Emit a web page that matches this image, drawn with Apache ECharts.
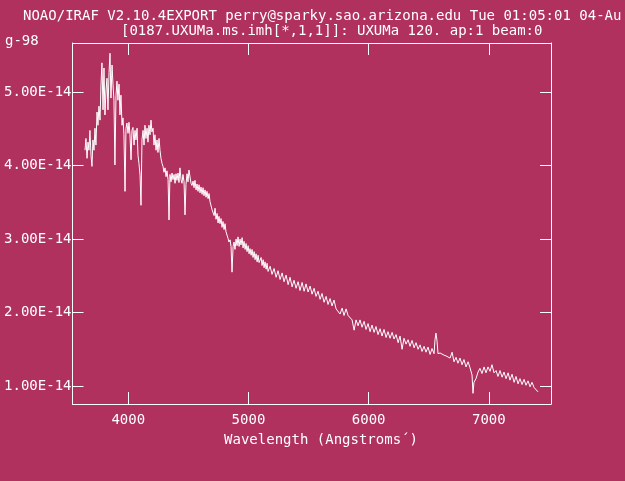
<!DOCTYPE html>
<html>
<head>
<meta charset="utf-8">
<script src="https://cdn.jsdelivr.net/npm/echarts@6/dist/echarts.min.js"></script>
<style>
html,body{margin:0;padding:0;background:#b0305e;}
#c{width:625px;height:481px;}
</style>
</head>
<body>
<div id="c"></div>
<script>
const headerLine1 = "NOAO/IRAF V2.10.4EXPORT perry@sparky.sao.arizona.edu Tue 01:05:01 04-Au";
const headerLine2 = "[0187.UXUMa.ms.imh[*,1,1]]: UXUMa 120. ap:1 beam:0";
const cornerLabel = "g-98";
const xAxisTitle = "Wavelength (Angstroms\u00b4)";

const xTicks = [4000, 5000, 6000, 7000];
const yTicks = [1, 2, 3, 4, 5]; // units of 1E-14

// Wavelength (Angstroms)
const wavelength = [
3640,3648,3657,3665,3673,3681,3690,3698,3706,3715,3723,3731,3740,3748,3756,3765,3773,3781,3790,3798,
3806,3815,3823,3831,3840,3848,3856,3865,3873,3881,3889,3898,3906,3914,3923,3931,3939,3948,3956,3964,
3973,3981,3989,3998,4006,4014,4023,4031,4039,4048,4056,4064,4073,4081,4089,4098,4106,4114,4123,4131,
4139,4147,4156,4164,4172,4181,4189,4197,4206,4214,4222,4231,4239,4247,4256,4264,4272,4281,4289,4297,
4306,4314,4322,4331,4339,4347,4356,4364,4372,4381,4389,4397,4405,4414,4422,4430,4439,4447,4455,4464,
4472,4480,4489,4497,4505,4514,4522,4530,4539,4547,4555,4564,4572,4580,4589,4597,4605,4614,4622,4630,
4639,4647,4655,4664,4672,4680,4689,4697,4705,4714,4722,4730,4739,4747,4755,4763,4772,4780,4788,4797,
4805,4813,4822,4830,4838,4847,4855,4863,4872,4880,4888,4897,4905,4913,4922,4930,4938,4947,4955,4963,
4972,4980,4988,4997,5005,5013,5022,5030,5038,5047,5055,5063,5072,5080,5088,5097,5105,5113,5122,5130,
5138,5147,5155,5163,
5180,5196,5213,5230,5246,5263,5280,5296,5313,5330,5346,5363,5379,5396,5413,5429,5446,5463,5479,5496,
5513,5529,5546,5562,5579,5596,5612,5629,5646,5662,5679,5695,5712,5729,5745,5762,5779,5795,5812,5829,
5845,5862,5879,5895,5912,5928,5945,5962,5978,5995,6012,6028,6045,6061,6078,6095,6111,6128,6145,6161,
6178,6195,6211,6228,6245,6261,6278,6294,6311,6328,6344,6361,6378,6394,6411,6428,6444,6461,6477,6494,
6511,6527,6544,6552,6560,6569,6577,6594,6610,6627,6644,6660,6677,6694,6710,6727,6743,6760,6777,6793,
6810,6827,6843,6860,6868,6876,6893,6910,6926,6943,6960,6976,6993,7010,7026,7043,7060,7076,7093,7110,
7126,7143,7160,7176,7193,7210,7226,7243,7259,7276,7293,7309,7326,7343,7359,7376,7392,7409
];

// Flux in units of 1E-14
const flux = [
4.21,4.37,4.10,4.32,4.21,4.48,4.14,3.99,4.35,4.21,4.51,4.28,4.73,4.55,4.81,4.62,5.10,5.40,4.76,5.33,
4.69,5.03,5.19,4.76,5.27,5.53,4.92,5.37,5.10,4.89,4.01,4.96,5.15,4.89,5.11,4.69,4.96,4.55,4.65,4.42,
3.65,4.51,4.58,4.44,4.59,4.42,4.08,4.48,4.52,4.28,4.48,4.35,4.51,4.14,4.03,3.87,3.46,4.35,4.48,4.28,
4.55,4.37,4.51,4.32,4.55,4.42,4.62,4.46,4.51,4.28,4.42,4.21,4.35,4.18,4.37,4.21,4.10,4.03,3.99,3.91,
3.97,3.85,3.93,3.81,3.26,3.88,3.78,3.90,3.81,3.88,3.76,3.89,3.80,3.90,3.77,3.97,3.81,3.76,3.88,3.78,
3.33,3.74,3.89,3.78,3.94,3.95,3.76,3.73,3.79,3.70,3.80,3.67,3.75,3.65,3.74,3.63,3.71,3.61,3.70,3.59,
3.67,3.57,3.65,3.55,3.62,3.51,3.51,3.40,3.42,3.32,3.42,3.27,3.35,3.22,3.31,3.21,3.28,3.16,3.24,3.13,
3.21,3.10,3.10,3.01,2.96,2.99,2.90,2.55,2.90,2.96,2.86,3.00,2.91,3.03,2.90,3.00,2.92,3.02,2.88,2.97,
2.86,2.94,2.83,2.91,2.80,2.87,2.78,2.86,2.75,2.83,2.72,2.80,2.69,2.78,2.68,2.67,2.75,2.64,2.72,2.61,
2.69,2.59,2.67,2.56,
2.63,2.52,2.60,2.48,2.57,2.45,2.54,2.42,2.51,2.38,2.48,2.35,2.44,2.33,2.42,2.30,2.41,2.29,2.39,2.28,
2.36,2.25,2.33,2.22,2.29,2.18,2.26,2.14,2.22,2.11,2.19,2.09,2.17,2.05,2.07,1.98,2.06,1.96,2.05,1.96,
1.96,1.90,1.76,1.90,1.82,1.90,1.80,1.88,1.77,1.85,1.74,1.83,1.73,1.81,1.70,1.78,1.68,1.77,1.66,1.74,
1.65,1.73,1.64,1.70,1.59,1.68,1.50,1.65,1.57,1.63,1.54,1.62,1.52,1.59,1.50,1.56,1.47,1.54,1.46,1.53,
1.43,1.51,1.44,1.63,1.72,1.61,1.44,1.45,1.44,1.42,1.41,1.39,1.38,1.46,1.33,1.39,1.31,1.38,1.29,1.36,
1.26,1.33,1.25,1.15,0.90,1.05,1.10,1.19,1.24,1.17,1.26,1.18,1.26,1.20,1.29,1.18,1.21,1.13,1.21,1.12,
1.19,1.10,1.18,1.08,1.16,1.05,1.13,1.03,1.10,1.02,1.09,1.01,1.07,0.99,1.05,0.98,0.96,0.92
];

const FONT = "DejaVu Sans Mono";
const FG = "#ffffff";

const chart = echarts.init(document.getElementById('c'), null, {renderer: 'canvas'});
const data = wavelength.map((w, i) => [w, flux[i]]);

const xBase = {
  type: 'value', min: 3536, max: 7517,
  splitLine: {show: false},
  axisLine: {show: true, lineStyle: {color: FG, width: 1}}
};
const yBase = {
  type: 'value', min: 0.755, max: 5.67,
  splitLine: {show: false},
  axisLine: {show: true, lineStyle: {color: FG, width: 1}}
};

chart.setOption({
  backgroundColor: '#b0305e',
  animation: false,
  grid: {left: 72.5, right: 74, top: 43, bottom: 77, containLabel: false},
  xAxis: [
    Object.assign({}, xBase, {
      position: 'bottom',
      axisTick: {show: true, inside: true, length: 12, customValues: xTicks, lineStyle: {color: FG}},
      axisLabel: {show: true, customValues: xTicks, margin: 9, color: FG, fontFamily: FONT, fontSize: 14,
        formatter: v => String(Math.round(v))}
    }),
    Object.assign({}, xBase, {
      position: 'top',
      axisTick: {show: true, inside: true, length: 12, customValues: xTicks, lineStyle: {color: FG}},
      axisLabel: {show: false}
    })
  ],
  yAxis: [
    Object.assign({}, yBase, {
      position: 'left',
      axisTick: {show: true, inside: true, length: 11, customValues: yTicks, lineStyle: {color: FG}},
      axisLabel: {show: true, customValues: yTicks, margin: 1, color: FG, fontFamily: FONT, fontSize: 14,
        formatter: v => v.toFixed(2) + 'E-14'}
    }),
    Object.assign({}, yBase, {
      position: 'right',
      axisTick: {show: true, inside: true, length: 11, customValues: yTicks, lineStyle: {color: FG}},
      axisLabel: {show: false}
    })
  ],
  graphic: [
    {type: 'text', left: 23, top: 9, style: {text: headerLine1, fill: FG, font: '14px "' + FONT + '"'}},
    {type: 'text', left: 121, top: 24, style: {text: headerLine2, fill: FG, font: '14px "' + FONT + '"'}},
    {type: 'text', left: 5, top: 34, style: {text: cornerLabel, fill: FG, font: '14px "' + FONT + '"'}},
    {type: 'text', x: 321, y: 440, style: {text: xAxisTitle, fill: FG, font: '14px "' + FONT + '"', align: 'center', verticalAlign: 'middle'}}
  ],
  series: [{
    type: 'line',
    data: data,
    xAxisIndex: 0, yAxisIndex: 0,
    showSymbol: false,
    symbol: 'none',
    lineStyle: {color: FG, width: 1},
    clip: true
  }]
});
</script>
</body>
</html>
